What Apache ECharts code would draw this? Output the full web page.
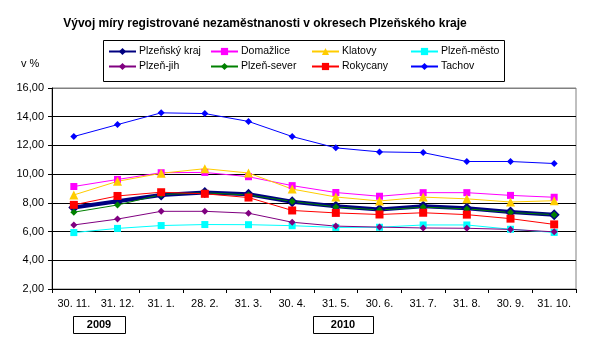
<!DOCTYPE html>
<html>
    <head>
        <meta charset="utf-8">
        <script src="https://cdn.jsdelivr.net/npm/echarts@6/dist/echarts.min.js"></script>
    </head>
    <body style="margin: 0; background: #fff">
        <div id="main" style="width: 591px; height: 352px"></div>
        <script>
            // months (end of month), Nov 2009 - Oct 2010
            const months = ['30. 11.', '31. 12.', '31. 1.', '28. 2.', '31. 3.', '30. 4.',
                            '31. 5.', '30. 6.', '31. 7.', '31. 8.', '30. 9.', '31. 10.'];

            const plzenskyKraj = [7.68, 8.11, 8.55, 8.72, 8.60, 8.08, 7.76, 7.54, 7.76, 7.62, 7.36, 7.18];
            const domazlice    = [9.14, 9.63, 10.10, 10.12, 9.82, 9.20, 8.72, 8.46, 8.71, 8.71, 8.52, 8.39];
            const klatovy      = [8.55, 9.50, 10.06, 10.38, 10.08, 8.96, 8.41, 8.13, 8.40, 8.28, 8.06, 8.15];
            const plzenMesto   = [5.93, 6.22, 6.42, 6.49, 6.48, 6.41, 6.29, 6.30, 6.46, 6.46, 6.16, 5.94];
            const plzenJih     = [6.46, 6.87, 7.41, 7.41, 7.28, 6.65, 6.38, 6.31, 6.25, 6.23, 6.15, 5.98];
            const plzenSever   = [7.35, 7.85, 8.58, 8.70, 8.55, 8.10, 7.72, 7.50, 7.70, 7.58, 7.33, 7.18];
            const rokycany     = [7.86, 8.48, 8.74, 8.63, 8.37, 7.47, 7.30, 7.19, 7.31, 7.18, 6.90, 6.50];
            const tachov       = [12.62, 13.45, 14.27, 14.22, 13.67, 12.62, 11.83, 11.55, 11.50, 10.88, 10.88, 10.74];

            const yTicks = [2, 4, 6, 8, 10, 12, 14, 16];

            // legend columns, as in the original (two rows of four)
            const legendCols = [
                ['Plzeňský kraj', 'Plzeň-jih'],
                ['Domažlice', 'Plzeň-sever'],
                ['Klatovy', 'Rokycany'],
                ['Plzeň-město', 'Tachov']
            ];
            const legendLeft = [108, 210, 311, 410];

            const font = 'Arial, "Liberation Sans", sans-serif';

            function line(name, data, color, symbol, size, width) {
                return {
                    name: name,
                    type: 'line',
                    data: data,
                    symbol: symbol,
                    symbolSize: size,
                    showSymbol: true,
                    color: color,
                    lineStyle: { color: color, width: width || 1 },
                    itemStyle: { color: color, borderWidth: 0 }
                };
            }

            var chartDom = document.getElementById('main');
            var myChart = echarts.init(chartDom, null, { renderer: 'canvas' });

            var legends = legendCols.map(function (col, i) {
                return {
                    orient: 'vertical',
                    left: legendLeft[i],
                    top: 46,
                    padding: 0,
                    itemGap: 4,
                    itemWidth: 27,
                    itemHeight: 9,
                    textStyle: { fontSize: 10.5, color: '#000', fontFamily: font, padding: [0, 0, 0, -2] },
                    data: col
                };
            });

            var option = {
                animation: false,
                backgroundColor: '#fff',
                textStyle: { fontFamily: font },
                title: {
                    text: 'Vývoj míry registrované nezaměstnanosti v okresech Plzeňského kraje',
                    left: 260,
                    textAlign: 'center',
                    top: 13,
                    textStyle: { fontSize: 12, fontWeight: 'bold', color: '#000', fontFamily: font }
                },
                legend: legends,
                grid: {
                    left: 52,
                    right: 15,
                    top: 88,
                    bottom: 63,
                    show: true,
                    borderColor: '#808080',
                    borderWidth: 1
                },
                xAxis: {
                    type: 'category',
                    data: months,
                    boundaryGap: true,
                    axisLine: { lineStyle: { color: '#000' } },
                    axisTick: { show: true, length: 4, lineStyle: { color: '#000' } },
                    axisLabel: { color: '#000', fontSize: 11, margin: 9, interval: 0, fontFamily: font }
                },
                yAxis: {
                    type: 'value',
                    min: yTicks[0],
                    max: yTicks[yTicks.length - 1],
                    interval: 2,
                    axisLine: { show: true, lineStyle: { color: '#000' } },
                    axisTick: { show: true, length: 4, lineStyle: { color: '#000' } },
                    axisLabel: {
                        color: '#000', fontSize: 11, margin: 8, fontFamily: font,
                        formatter: v => v.toFixed(2).replace('.', ',')
                    },
                    splitLine: {
                        lineStyle: { color: ['#000', '#000', '#000', '#000', '#000', '#000', '#000', '#808080'], width: 1 }
                    }
                },
                graphic: [
                    { type: 'rect', z: 0, shape: { x: 103.5, y: 40.5, width: 401, height: 41 }, style: { fill: '#fff', stroke: '#000', lineWidth: 1 } },
                    { type: 'text', left: 21, top: 58, style: { text: 'v %', fill: '#000', font: '11px ' + font } },
                    { type: 'rect', shape: { x: 73.5, y: 316.5, width: 52, height: 17 }, style: { fill: '#fff', stroke: '#000', lineWidth: 1 } },
                    { type: 'text', x: 99, y: 325, style: { text: '2009', font: 'bold 11px ' + font, fill: '#000', align: 'center', verticalAlign: 'middle' } },
                    { type: 'rect', shape: { x: 313.5, y: 316.5, width: 60, height: 17 }, style: { fill: '#fff', stroke: '#000', lineWidth: 1 } },
                    { type: 'text', x: 343, y: 325, style: { text: '2010', font: 'bold 11px ' + font, fill: '#000', align: 'center', verticalAlign: 'middle' } }
                ],
                series: [
                    line('Plzeňský kraj', plzenskyKraj, '#000080', 'diamond', 11, 4),
                    line('Domažlice', domazlice, '#FF00FF', 'rect', 7),
                    line('Klatovy', klatovy, '#FFCC00', 'triangle', 9),
                    line('Plzeň-město', plzenMesto, '#00FFFF', 'rect', 7),
                    line('Plzeň-jih', plzenJih, '#800080', 'diamond', 7),
                    line('Plzeň-sever', plzenSever, '#008000', 'diamond', 7),
                    line('Rokycany', rokycany, '#FF0000', 'rect', 8),
                    line('Tachov', tachov, '#0000FF', 'diamond', 7)
                ]
            };

            option && myChart.setOption(option);
        </script>
    </body>
</html>
